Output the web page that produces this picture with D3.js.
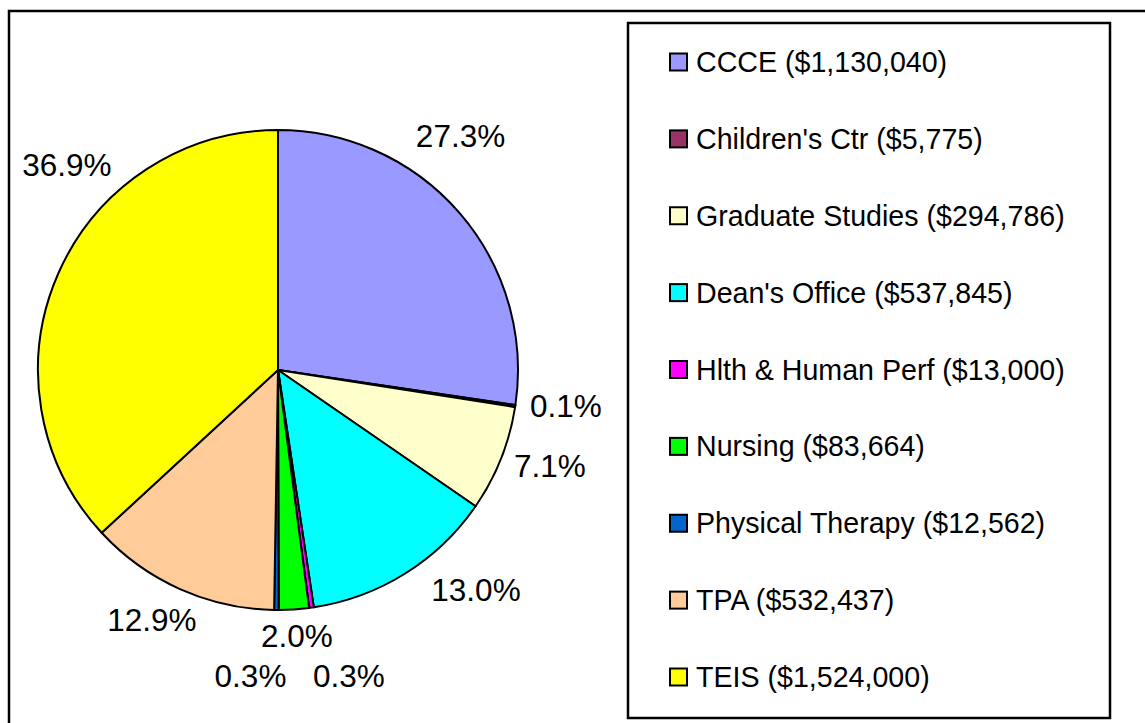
<!DOCTYPE html>
<html>
<head>
<meta charset="utf-8">
<script src="https://cdn.jsdelivr.net/npm/d3@7"></script>
<style>
  html, body { margin: 0; padding: 0; background: #fff; }
  svg { display: block; font-family: "Liberation Sans", Arial, sans-serif; }
</style>
</head>
<body>
<svg id="chart" width="1145" height="723"></svg>
<script>
// ---- data ----
const categories = ["CCCE", "Children's Ctr", "Graduate Studies", "Dean's Office", "Hlth & Human Perf", "Nursing", "Physical Therapy", "TPA", "TEIS"];
const amounts = [1130040, 5775, 294786, 537845, 13000, 83664, 12562, 532437, 1524000];
const colors = ["#9999FF", "#993366", "#FFFFCC", "#00FFFF", "#FF00FF", "#00FF00", "#0066CC", "#FFCC99", "#FFFF00"];
// label nudges (layout only) relative to the slice's outer label point
const labelNudge = [[-37, -44.5], [1.3, -7.7], [2.6, -12.2], [44.3, -25.9], [30.5, 18.6], [-0.5, -23.4], [-25.6, 15.7], [-7.6, -14.8], [54.5, -89.4]];

const svg = d3.select("#chart");
const W = 1145, H = 723;

// outer border (extends past right/bottom edges)
svg.append("rect").attr("x", 9).attr("y", 11).attr("width", W + 20).attr("height", H + 20)
  .attr("fill", "none").attr("stroke", "#000").attr("stroke-width", 2.5);

const cx = 278, cy = 370, R = 240;
const total = d3.sum(amounts);
const rows = categories.map((c, i) => ({ name: c, value: amounts[i], color: colors[i], i }));

const pie = d3.pie().sort(null).value(d => d.value).startAngle(0).endAngle(2 * Math.PI);
const arcs = pie(rows);
const arc = d3.arc().innerRadius(0).outerRadius(R);
const labelArc = d3.arc().innerRadius(290).outerRadius(290);

const g = svg.append("g").attr("transform", `translate(${cx},${cy})`);
g.selectAll("path.slice").data(arcs).enter().append("path")
  .attr("class", "slice")
  .attr("d", arc)
  .attr("fill", d => d.data.color)
  .attr("stroke", "#000").attr("stroke-width", 2).attr("stroke-linejoin", "round");

const pct = d3.format(".1f");
const labelSize = 31.5;
g.selectAll("text.lbl").data(arcs).enter().append("text")
  .attr("class", "lbl")
  .attr("x", d => labelArc.centroid(d)[0] + labelNudge[d.data.i][0])
  .attr("y", d => labelArc.centroid(d)[1] + labelNudge[d.data.i][1] + labelSize * 0.36)
  .attr("text-anchor", "middle")
  .attr("font-size", labelSize)
  .attr("fill", "#000")
  .text(d => pct(d.data.value / total * 100) + "%");

// legend
const legX = 628, legY = 23, legW = 482, legH = 695;
svg.append("rect").attr("x", legX).attr("y", legY).attr("width", legW).attr("height", legH)
  .attr("fill", "#fff").attr("stroke", "#000").attr("stroke-width", 2.5);

const legendY = d3.scalePoint().domain(categories).range([62, 677]);
const money = d3.format(",");
const lg = svg.append("g").selectAll("g").data(rows).enter().append("g")
  .attr("transform", d => `translate(0,${legendY(d.name)})`);
lg.append("rect").attr("x", 670).attr("y", -8.5).attr("width", 17).attr("height", 17)
  .attr("fill", d => d.color).attr("stroke", "#000").attr("stroke-width", 2);
lg.append("text").attr("x", 696).attr("y", 10).attr("font-size", 28.6).attr("fill", "#000")
  .text(d => `${d.name} ($${money(d.value)})`);
</script>
</body>
</html>
